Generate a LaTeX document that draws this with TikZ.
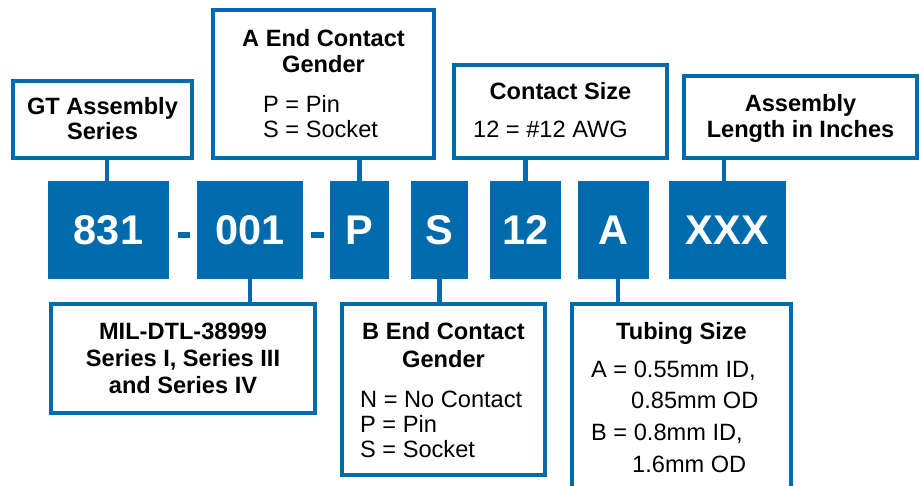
\documentclass[tikz,border=0pt]{standalone}
\usepackage{fontspec}
\setmainfont{Liberation Sans}
\definecolor{gtblue}{HTML}{006BAC}
\tikzset{
  bluebox/.style={fill=gtblue, draw=none, inner sep=0pt, text=white,
    font=\fontsize{41.5}{41.5}\selectfont\bfseries, minimum height=98pt},
  frame/.style={draw=gtblue, line width=4pt, fill=white, inner sep=0pt},
  conn/.style={draw=gtblue, line width=4.5pt},
  dashbar/.style={fill=gtblue, draw=none},
  lbl/.style={inner sep=0pt, anchor=base, font=\fontsize{23.6}{25}\selectfont\bfseries},
  txt/.style={inner sep=0pt, anchor=base west, font=\fontsize{23.6}{25}\selectfont},
}
\begin{document}
\begin{tikzpicture}[x=1pt,y=-1pt]
\clip (0,0) rectangle (921,486);
\useasboundingbox (0,0) rectangle (921,486);
\fill[white] (0,0) rectangle (921,486);

% code boxes
\node[bluebox, minimum width=121pt] (b831) at (108.5,230) {831};
\node[bluebox, minimum width=106pt] (b001) at (250,230) {001};
\node[bluebox, minimum width=59pt] (bP) at (359.5,230) {P};
\node[bluebox, minimum width=57pt] (bS) at (439.5,230) {S};
\node[bluebox, minimum width=71pt] (b12) at (525.5,230) {12};
\node[bluebox, minimum width=71pt] (bA) at (613.5,230) {A};
\node[bluebox, minimum width=117pt] (bX) at (727.5,230) {XXX};

% dashes
\fill[dashbar] (178,232) rectangle (190,238);
\fill[dashbar] (311,232) rectangle (323.5,238);

% frames
\node[frame, minimum width=179pt, minimum height=77pt] (gt) at (102.5,119.5) {};
\node[frame, minimum width=221pt, minimum height=148pt] (aend) at (323.5,84) {};
\node[frame, minimum width=213pt, minimum height=93pt] (csize) at (560.5,111.5) {};
\node[frame, minimum width=233pt, minimum height=82pt] (asm) at (800.5,117) {};
\node[frame, minimum width=264pt, minimum height=109pt] (mil) at (183,358.5) {};
\node[frame, minimum width=203pt, minimum height=171pt] (bend) at (443.5,389.5) {};
\node[frame, minimum width=219pt, minimum height=196pt] (tub) at (681.5,402) {};

% connectors
\draw[conn] ([xshift=-1.5pt]b831.north) -- ([xshift=-1.5pt]b831.north |- gt.south);
\draw[conn] (bP.north) -- (bP.north |- aend.south);
\draw[conn] (b12.north) -- (b12.north |- csize.south);
\draw[conn] ([xshift=-3.5pt]bX.north) -- ([xshift=-3.5pt]bX.north |- asm.south);
\draw[conn] (b001.south) -- (b001.south |- mil.north);
\draw[conn] (bS.south) -- (bS.south |- bend.north);
\draw[conn] ([xshift=4.5pt]bA.south) -- ([xshift=4.5pt]bA.south |- tub.north);

% top labels
\node[lbl] (gt1) at (102.5,115) {GT Assembly};
\node[lbl] (gt2) at (102.5,140) {Series};

\node[lbl] (ae1) at (323.5,47) {A End Contact};
\node[lbl] (ae2) at (323.5,73) {Gender};
\node[txt] (ae3) at (263,113) {P = Pin};
\node[txt] (ae4) at (263,138) {S = Socket};

\node[lbl] (cs1) at (560.5,100) {Contact Size};
\node[txt] (cs2) at (473,138) {12 = \#12 AWG};

\node[lbl] (as1) at (800.5,112) {Assembly};
\node[lbl] (as2) at (800.5,138) {Length in Inches};

% bottom labels
\node[lbl] (m1) at (183,340) {MIL-DTL-38999};
\node[lbl] (m2) at (183,366.5) {Series I, Series III};
\node[lbl] (m3) at (183,393) {and Series IV};

\node[lbl] (be1) at (443.5,340) {B End Contact};
\node[lbl] (be2) at (443.5,367) {Gender};
\node[txt] (be3) at (360,407) {N = No Contact};
\node[txt] (be4) at (360,432) {P = Pin};
\node[txt] (be5) at (360,457) {S = Socket};

\node[lbl] (t1) at (681.5,340) {Tubing Size};
\node[txt] (t2) at (591,377) {A = 0.55mm ID,};
\node[txt] (t3) at (631,408) {0.85mm OD};
\node[txt] (t4) at (591,440) {B = 0.8mm ID,};
\node[txt] (t5) at (632,472) {1.6mm OD};
\end{tikzpicture}
\end{document}
